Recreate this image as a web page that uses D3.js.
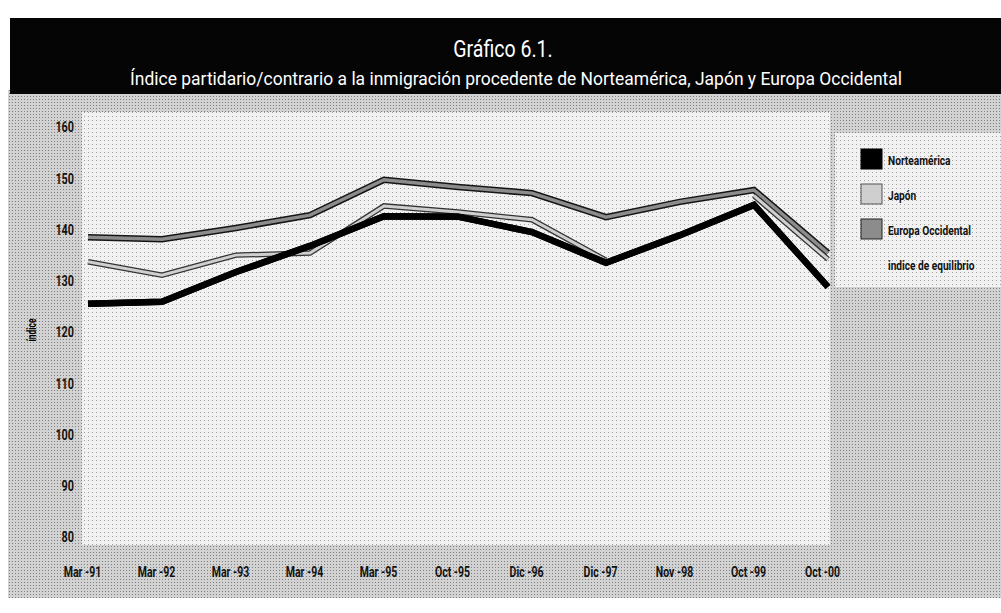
<!DOCTYPE html>
<html lang="es">
	<head>
		<meta charset="utf-8">
		<title>Gráfico 6.1</title>
		<script type="text/javascript" src="https://cdn.jsdelivr.net/npm/d3@7"></script>
		<style type="text/css">
			body { margin: 0; background: #ffffff; }
			text {
				font-family: Roboto, "DejaVu Sans", sans-serif;
				font-weight: bold;
				}
			.axis text { font-size: 15px; fill: #111; }
			.axis path, .axis line { display: none; }
		</style>
	</head>
	<body>
		<script type="text/javascript">

			var w = 1001;
			var h = 613;

			// data
			var periodos = ["Mar -91", "Mar -92", "Mar -93", "Mar -94", "Mar -95", "Oct -95",
							"Dic -96", "Dic -97", "Nov -98", "Oct -99", "Oct -00"];
			var norteamerica = [125.5, 125.9, 131.7, 136.8, 142.6, 142.5, 139.5, 133.5, 138.9, 144.8, 128.8];
			var japon        = [133.7, 131.1, 135.0, 135.4, 144.6, 143.4, 141.9, 134.0, null, 146.6, 134.2];
			var europa       = [138.5, 138.1, 140.3, 142.8, 149.7, 148.3, 147.1, 142.4, 145.4, 147.7, 135.4];
			var yTicks = [80, 90, 100, 110, 120, 130, 140, 150, 160];

			// no condensed face installed, so squeeze the glyphs
			function condense(sel, k) {
				sel.each(function() {
					var len = this.getComputedTextLength();
					d3.select(this)
						.attr("textLength", len * k)
						.attr("lengthAdjust", "spacingAndGlyphs");
					});
				}

			var svg = d3.select("body")
						.append("svg")
						.attr("width", w)
						.attr("height", h);

			// halftone-ish background
			var defs = svg.append("defs");
			var dots = defs.append("pattern")
				.attr("id", "dots")
				.attr("width", 3).attr("height", 3)
				.attr("patternUnits", "userSpaceOnUse");
			dots.append("rect").attr("width", 3).attr("height", 3).attr("fill", "#d2d2d2");
			dots.append("rect").attr("width", 1).attr("height", 1).attr("fill", "#808080");

			var lightdots = defs.append("pattern")
				.attr("id", "lightdots")
				.attr("width", 4).attr("height", 4)
				.attr("patternUnits", "userSpaceOnUse");
			lightdots.append("rect").attr("width", 4).attr("height", 4).attr("fill", "#f1f1f1");
			lightdots.append("rect").attr("width", 1).attr("height", 1).attr("fill", "#a0a0a0");

			svg.append("rect")
				.attr("x", 8).attr("y", 90)
				.attr("width", w - 8).attr("height", 508)
				.attr("fill", "url(#dots)");

			// plot area and legend box
			svg.append("rect")
				.attr("x", 82).attr("y", 112)
				.attr("width", 748).attr("height", 433)
				.attr("fill", "url(#lightdots)");

			svg.append("rect")
				.attr("x", 835).attr("y", 133)
				.attr("width", 166).attr("height", 154)
				.attr("fill", "url(#lightdots)");

			// title bar
			svg.append("rect")
				.attr("x", 10).attr("y", 18)
				.attr("width", w - 10).attr("height", 76)
				.attr("fill", "#050505");

			svg.append("text")
				.attr("x", 503).attr("y", 57)
				.attr("text-anchor", "middle")
				.style("font-size", "23px")
				.style("font-weight", "normal")
				.attr("fill", "#fff")
				.text("Gráfico 6.1.")
				.call(condense, 0.85);

			svg.append("text")
				.attr("x", 516).attr("y", 85)
				.attr("text-anchor", "middle")
				.style("font-size", "19px")
				.style("font-weight", "normal")
				.attr("fill", "#fff")
				.text("Índice partidario/contrario a  la inmigración procedente de Norteamérica, Japón y Europa Occidental")
				.attr("textLength", 772)
				.attr("lengthAdjust", "spacingAndGlyphs");

			// scales
			var xScale = d3.scalePoint()
							.domain(periodos)
							.range([88, 828]);

			var yScale = d3.scaleLinear()
							.domain([80, 160])
							.range([537, 127]);

			// axes
			var yAxis = d3.axisLeft()
							.scale(yScale)
							.tickValues(yTicks)
							.tickSize(0)
							.tickPadding(0);

			var gy = svg.append("g")
				.attr("class", "axis")
				.attr("transform", "translate(74,0)")
				.call(yAxis);
			condense(gy.selectAll("text"), 0.72);

			var xAxis = d3.axisBottom()
							.scale(xScale)
							.tickSize(0)
							.tickPadding(0);

			var gx = svg.append("g")
				.attr("class", "axis")
				.attr("transform", "translate(-6,566)")
				.call(xAxis);
			condense(gx.selectAll("text"), 0.7);

			svg.append("text")
				.attr("transform", "translate(36,330) rotate(-90)")
				.attr("text-anchor", "middle")
				.style("font-size", "12px")
				.text("índice")
				.call(condense, 0.7);

			// lines: outline first, then the fill
			var line = d3.line()
						.defined(function(d) { return d !== null; })
						.x(function(d, i) { return xScale(periodos[i]); })
						.y(function(d) { return yScale(d); });

			var series = [
				{ name: "Europa Occidental", values: europa, outer: "#151515", outerW: 6.5, inner: "#8c8c8c", innerW: 3.5 },
				{ name: "Japón", values: japon, outer: "#333333", outerW: 5.5, inner: "#cfcfcf", innerW: 3 },
				{ name: "Norteamérica", values: norteamerica, outer: "#000000", outerW: 6.5, inner: "#000000", innerW: 6.5 }
				];

			series.forEach(function(s) {
				svg.append("path")
					.datum(s.values)
					.attr("d", line)
					.attr("fill", "none")
					.attr("stroke", s.outer)
					.attr("stroke-width", s.outerW)
					.attr("stroke-linejoin", "miter");
				svg.append("path")
					.datum(s.values)
					.attr("d", line)
					.attr("fill", "none")
					.attr("stroke", s.inner)
					.attr("stroke-width", s.innerW)
					.attr("stroke-linejoin", "miter");
				});

			// legend
			var legendItems = [
				{ label: "Norteamérica", fill: "#000000", stroke: "#000" },
				{ label: "Japón", fill: "#cfcfcf", stroke: "#555" },
				{ label: "Europa Occidental", fill: "#8c8c8c", stroke: "#222" },
				{ label: "indice de equilibrio", fill: "none", stroke: "none" }
				];

			var legend = svg.selectAll(".legend")
				.data(legendItems)
				.enter()
				.append("g")
				.attr("class", "legend")
				.attr("transform", function(d, i) { return "translate(861," + (149 + i * 35) + ")"; });

			legend.append("rect")
				.attr("width", 21).attr("height", 20)
				.attr("fill", function(d) { return d.fill; })
				.attr("stroke", function(d) { return d.stroke; })
				.attr("stroke-width", 1);

			legend.append("text")
				.attr("x", 27).attr("y", 16)
				.style("font-size", "13px")
				.attr("fill", "#111")
				.text(function(d) { return d.label; })
				.call(condense, 0.78);

		</script>
	</body>
</html>
